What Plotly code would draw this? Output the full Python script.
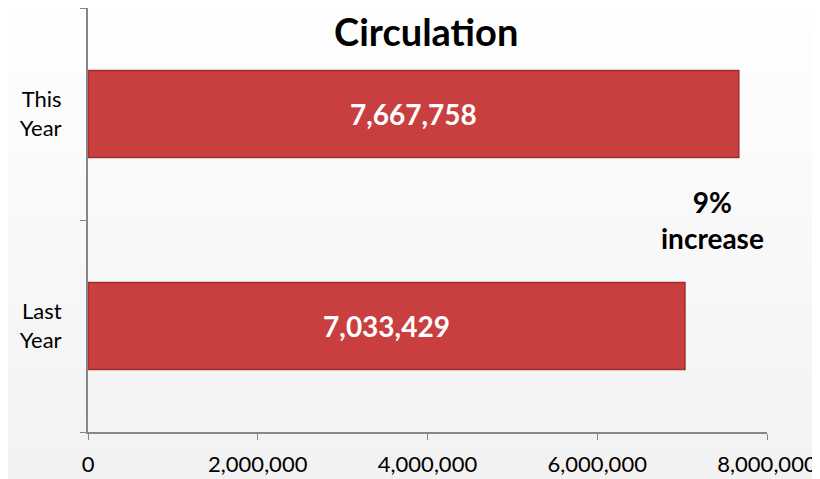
import plotly.graph_objects as go

categories = ["Last Year", "This Year"]
tick_labels = ["Last<br>Year", "This<br>Year"]
circulation = [7033429, 7667758]
bar_text = ["7,033,429", "7,667,758"]
note = "9%<br>increase"

FONT = "Lato, 'Open Sans', sans-serif"

fig = go.Figure()
fig.add_trace(go.Bar(
    y=categories, x=circulation, orientation="h",
    text=bar_text, textposition="inside", insidetextanchor="middle",
    textfont=dict(color="white", size=28, family=FONT, weight="bold"),
    marker=dict(color="#c93e3e", line=dict(color="#a02c2c", width=1.5)),
    width=0.41,
))

# soft white-to-grey background like the original
steps = 24
for i in range(steps):
    c = int(255 - 13 * i / (steps - 1))
    fig.add_shape(type="rect", xref="paper", yref="paper",
                  x0=-0.2, x1=1.2, y0=1.05 - (i + 1) * 1.2 / steps, y1=1.05 - i * 1.2 / steps,
                  fillcolor="rgb({0},{0},{0})".format(c), line_width=0, layer="below")

fig.add_annotation(x=0.92, y=0.5, xref="paper", yref="paper", text=note, xanchor="center",
                   showarrow=False, font=dict(size=28, family=FONT, color="black", weight="bold"))

fig.update_layout(
    width=812, height=471,
    margin=dict(l=80, r=53, t=0, b=47, autoexpand=False),
    paper_bgcolor="white", plot_bgcolor="rgba(0,0,0,0)",
    showlegend=False,
    title=dict(text="<b>Circulation</b>", x=0.515, xanchor="center", y=0.947, yanchor="middle",
               font=dict(size=38, family=FONT, color="black")),
    font=dict(family=FONT, color="black"),
)
fig.update_xaxes(range=[0, 8000000], dtick=2000000, tickformat=",", showgrid=False, zeroline=False,
                 showline=True, linecolor="#868686", linewidth=2, ticks="outside", ticklen=6,
                 tickcolor="#868686", tickfont=dict(size=22), automargin=False, ticklabelstandoff=6)
fig.update_yaxes(range=[-0.5, 1.5], tickvals=categories, ticktext=tick_labels, tickson="boundaries",
                 showgrid=False, showline=True, linecolor="#868686", linewidth=2, ticks="outside",
                 ticklen=6, tickcolor="#868686", tickfont=dict(size=22), automargin=False,
                 ticklabelstandoff=20)

fig.write_html("out.html")
